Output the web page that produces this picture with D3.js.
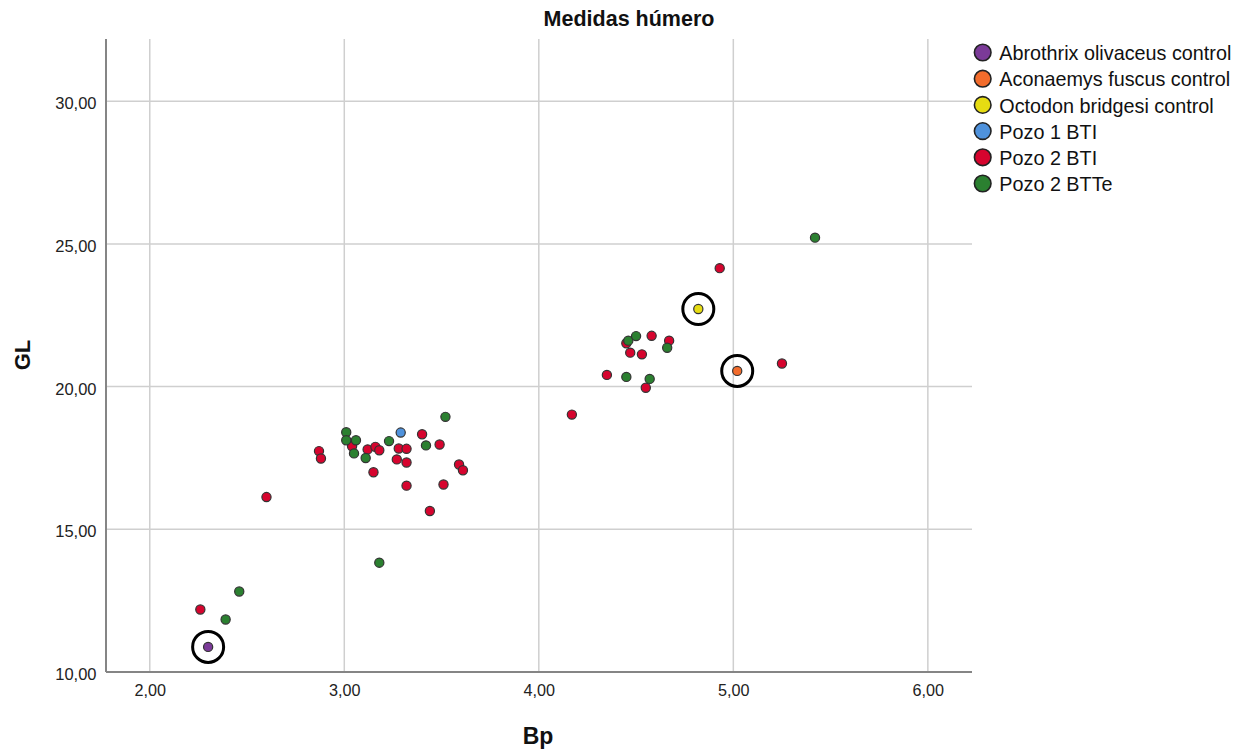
<!DOCTYPE html>
<html>
<head>
<meta charset="utf-8">
<script src="https://cdn.jsdelivr.net/npm/d3@7"></script>
<style>
  html, body { margin: 0; padding: 0; background: #fff; }
  svg { display: block; font-family: "Liberation Sans", Arial, sans-serif; }
</style>
</head>
<body>
<svg id="chart" width="1251" height="750"></svg>
<script>
// Humerus measurements: Bp (proximal breadth) vs GL (greatest length)
const groups = [
  "Abrothrix olivaceus control",
  "Aconaemys fuscus control",
  "Octodon bridgesi control",
  "Pozo 1 BTI",
  "Pozo 2 BTI",
  "Pozo 2 BTTe"
];
const groupColors = ["#7b3a98", "#f26c2c", "#e6dc12", "#4f92dc", "#d6042e", "#2b8030"];

// [Bp, GL] per specimen
const abrothrix = [[2.30, 10.88]];
const aconaemys = [[5.02, 20.55]];
const octodon = [[4.82, 22.72]];
const pozo1BTI = [[3.29, 18.39]];
const pozo2BTI = [
  [2.87, 17.74], [2.88, 17.48], [3.04, 17.91], [3.12, 17.80], [3.16, 17.89],
  [3.18, 17.77], [3.28, 17.83], [3.32, 17.82], [3.27, 17.45], [3.32, 17.34],
  [3.15, 17.00], [3.32, 16.53], [3.51, 16.57], [3.44, 15.64], [3.40, 18.33],
  [3.49, 17.97], [3.59, 17.27], [3.61, 17.07], [2.60, 16.13], [2.26, 12.19],
  [4.17, 19.02], [4.35, 20.41], [4.55, 19.96], [4.45, 21.52], [4.58, 21.78],
  [4.67, 21.61], [4.47, 21.19], [4.53, 21.13], [4.93, 24.15], [5.25, 20.81]
];
const pozo2BTTe = [
  [3.01, 18.40], [3.01, 18.12], [3.06, 18.12], [3.05, 17.66], [3.11, 17.50],
  [3.23, 18.09], [3.42, 17.94], [3.52, 18.94], [3.18, 13.83], [2.46, 12.82],
  [2.39, 11.84], [4.46, 21.61], [4.50, 21.77], [4.66, 21.36], [4.45, 20.34],
  [4.57, 20.27], [5.42, 25.22]
];
const seriesValues = [abrothrix, aconaemys, octodon, pozo1BTI, pozo2BTI, pozo2BTTe];
// Groups whose points get a highlight ring
const ringed = ["Abrothrix olivaceus control", "Aconaemys fuscus control", "Octodon bridgesi control"];

const xTicks = [2, 3, 4, 5, 6];
const yTicks = [10, 15, 20, 25, 30];

const svg = d3.select("#chart");
const plotL = 106, plotR = 972, plotT = 39, plotB = 672;

const x = d3.scaleLinear().domain([1.775, 6.227]).range([plotL, plotR]);
const y = d3.scaleLinear().domain([10, 32.18]).range([plotB, plotT]);
const fmt = v => d3.format(".2f")(v).replace(".", ",");

// grid lines
svg.append("g").selectAll("line").data(xTicks).join("line")
  .attr("x1", d => x(d)).attr("x2", d => x(d))
  .attr("y1", plotT).attr("y2", plotB)
  .attr("stroke", "#cfcfcf").attr("stroke-width", 1.5);
svg.append("g").selectAll("line").data(yTicks.filter(d => d > 10)).join("line")
  .attr("x1", plotL).attr("x2", plotR)
  .attr("y1", d => y(d)).attr("y2", d => y(d))
  .attr("stroke", "#cfcfcf").attr("stroke-width", 1.5);

// axes
const xAxis = svg.append("g").attr("transform", `translate(0,${plotB})`)
  .call(d3.axisBottom(x).tickValues(xTicks).tickFormat(fmt).tickSize(0));
const yAxis = svg.append("g").attr("transform", `translate(${plotL},0)`)
  .call(d3.axisLeft(y).tickValues(yTicks).tickFormat(fmt).tickSize(0).tickPadding(9.5));
[xAxis, yAxis].forEach(a => {
  a.select(".domain").attr("stroke", "#858585").attr("stroke-width", 2);
  a.selectAll("text").attr("fill", "#222")
    .attr("font-family", "'Liberation Sans', Arial, sans-serif");
});
xAxis.selectAll("text").attr("font-size", 16).attr("y", 24).attr("dy", 0)
  .attr("textLength", 31.5).attr("lengthAdjust", "spacingAndGlyphs");
yAxis.selectAll("text").attr("font-size", 16.5).attr("y", 7.5).attr("dy", 0);
xAxis.select(".domain").attr("d", `M${plotL},0H${plotR}`);
yAxis.select(".domain").attr("d", `M0,${plotT}V${plotB}`);

// points
const pts = seriesValues.flatMap((arr, i) => arr.map(p => ({ g: i, bp: p[0], gl: p[1] })));
svg.append("g").selectAll("circle").data(pts).join("circle")
  .attr("cx", d => x(d.bp)).attr("cy", d => y(d.gl)).attr("r", 4.6)
  .attr("fill", d => groupColors[d.g])
  .attr("stroke", "#333").attr("stroke-width", 1.2);

// highlight rings
const ringPts = pts.filter(d => ringed.includes(groups[d.g]));
svg.append("g").selectAll("circle").data(ringPts).join("circle")
  .attr("cx", d => x(d.bp)).attr("cy", d => y(d.gl)).attr("r", 15.5)
  .attr("fill", "none").attr("stroke", "#000").attr("stroke-width", 3);

// title and axis titles
svg.append("text").attr("x", 629).attr("y", 26).attr("text-anchor", "middle")
  .attr("font-size", 21.5).attr("font-weight", "bold").attr("fill", "#111").text("Medidas húmero");
svg.append("text").attr("x", 538).attr("y", 744).attr("text-anchor", "middle")
  .attr("font-size", 23).attr("font-weight", "bold").attr("fill", "#111").text("Bp");
svg.append("text").attr("transform", "translate(30,355) rotate(-90)").attr("text-anchor", "middle")
  .attr("font-size", 22).attr("font-weight", "bold").attr("fill", "#111").text("GL");

// legend
const leg = svg.append("g").attr("transform", "translate(982.7,52.5)");
const rows = leg.selectAll("g").data(groups).join("g")
  .attr("transform", (d, i) => `translate(0,${i * 26.2})`);
rows.append("circle").attr("r", 8.3)
  .attr("fill", (d, i) => groupColors[i]).attr("stroke", "#222").attr("stroke-width", 1.6);
rows.append("text").attr("x", 16.6).attr("y", 7.6).attr("font-size", 19.8).attr("fill", "#111")
  .text(d => d);
</script>
</body>
</html>
